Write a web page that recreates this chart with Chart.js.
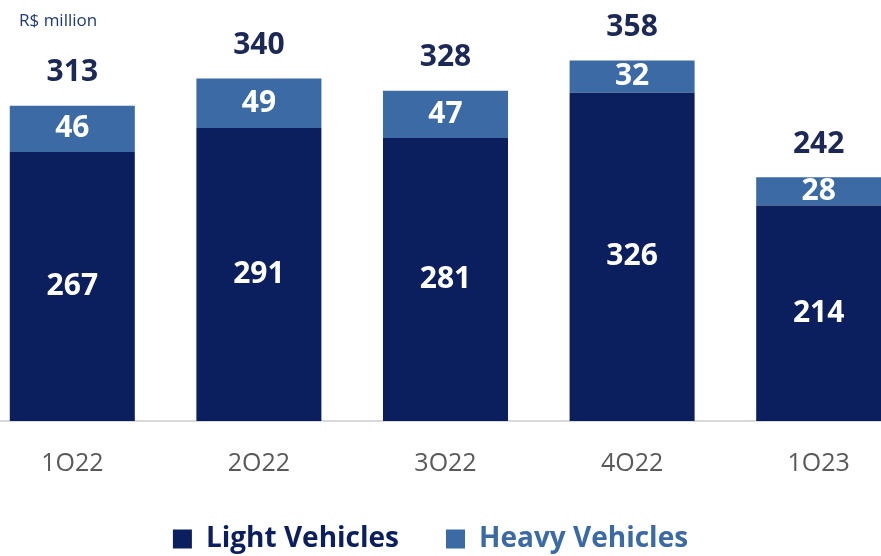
<!DOCTYPE html>
<html>
<head>
<meta charset="utf-8">
<script src="https://cdn.jsdelivr.net/npm/chart.js@4"></script>
<style>
  html, body { margin: 0; padding: 0; background: #fff; overflow: hidden; }
  #wrap { position: absolute; left: -21px; top: 0; width: 933px; height: 556px; }
</style>
</head>
<body>
<div id="wrap"><canvas id="chart"></canvas></div>
<script>
// Revenue by vehicle type, R$ million
const quarters = ["1Q22", "2Q22", "3Q22", "4Q22", "1Q23"]
const lightVehicles = [267, 291, 281, 326, 214]
const heavyVehicles = [46, 49, 47, 32, 28]
const totals = [313, 340, 328, 358, 242]

const NAVY = "#0b1f5e"
const STEEL = "#3c6aa4"
const BASELINE = 421      // canvas y of the category axis
const LEGEND_MID = 539    // canvas y of the legend row centre
const LEGEND_PAD = 47

// white values inside each segment, totals above the stack, unit note top-left
const barLabels = {
  id: "barLabels",
  afterLayout(chart) {
    // legend row sits lower and a little left of the plot centre
    const lg = chart.legend
    const top = LEGEND_MID - LEGEND_PAD - 14
    lg.bottom += top - lg.top
    lg.top = top
    lg.left -= 15
    lg.right -= 15
  },
  afterDatasetsDraw(chart) {
    const ctx = chart.ctx
    ctx.save()
    ctx.textAlign = "center"
    ctx.textBaseline = "middle"
    ctx.font = "bold 30px 'Open Sans'"
    chart.data.datasets.forEach((ds, i) => {
      chart.getDatasetMeta(i).data.forEach((bar, j) => {
        ctx.fillStyle = "#ffffff"
        ctx.fillText(ds.data[j], bar.x, (bar.y + bar.base) / 2)
      })
    })
    const tops = chart.getDatasetMeta(1).data
    ctx.fillStyle = "#1c2957"
    totals.forEach((t, j) => ctx.fillText(t, tops[j].x, tops[j].y - 33))

    ctx.textAlign = "left"
    ctx.font = "17px 'Open Sans'"
    ctx.fillStyle = "#1f3a78"
    ctx.fillText("R$ million", 40, 21)
    ctx.restore()
  },
}

new Chart(document.getElementById("chart"), {
  type: "bar",
  data: {
    labels: quarters,
    datasets: [
      { label: "Light Vehicles", data: lightVehicles, backgroundColor: NAVY },
      { label: "Heavy Vehicles", data: heavyVehicles, backgroundColor: STEEL },
    ],
  },
  options: {
    responsive: true,
    maintainAspectRatio: false,
    animation: false,
    layout: { padding: 0 },
    datasets: { bar: { barPercentage: 0.67, categoryPercentage: 1 } },
    scales: {
      x: {
        stacked: true,
        grid: { display: false },
        border: { display: true, color: "#d9d9d9", width: 2 },
        ticks: { color: "#595959", font: { family: "'Open Sans'", size: 25 }, padding: 20 },
        afterFit(scale) {
          scale.height = Math.max(556 - BASELINE - scale.chart.legend.height, 0)
        },
      },
      y: {
        stacked: true,
        display: false,
        min: 0,
        max: 418,
      },
    },
    plugins: {
      tooltip: { enabled: false },
      legend: {
        position: "bottom",
        labels: {
          boxWidth: 19,
          boxHeight: 19,
          padding: LEGEND_PAD,
          font: { family: "'Open Sans'", size: 28, weight: "bold" },
          generateLabels(chart) {
            return chart.data.datasets.map((ds, i) => ({
              text: ds.label,
              fillStyle: ds.backgroundColor,
              strokeStyle: ds.backgroundColor,
              lineWidth: 0,
              fontColor: ds.backgroundColor,
              datasetIndex: i,
            }))
          },
        },
      },
    },
  },
  plugins: [barLabels],
})
</script>
</body>
</html>
